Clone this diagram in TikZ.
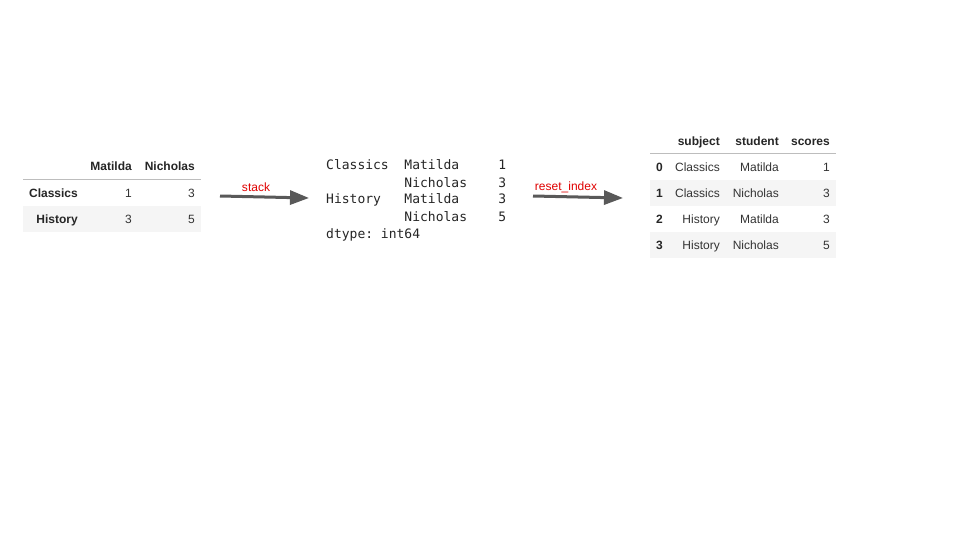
\documentclass[tikz,border=0pt]{standalone}
\usepackage{fontspec}
\setmainfont{Liberation Sans}
\newfontfamily\monof{DejaVu Sans Mono}
\usetikzlibrary{arrows.meta}
\definecolor{rowbg}{HTML}{F5F5F5}
\definecolor{ruleg}{HTML}{BDBDBD}
\definecolor{arrg}{HTML}{595959}
\definecolor{lblred}{HTML}{E00000}
\definecolor{txtg}{HTML}{333333}
\frenchspacing
\begin{document}
\begin{tikzpicture}[x=1pt,y=-1pt,
  cell/.style={inner sep=0pt,font=\fontsize{12}{14}\selectfont,text=txtg},
  hcell/.style={cell,font=\fontsize{12}{14}\selectfont\bfseries,text=black!85},
  mono/.style={inner sep=0pt,anchor=base west,font=\monof\fontsize{13}{17}\selectfont,text=black!85},
  flow/.style={draw=arrg,line width=3pt,-{Triangle[length=19pt,width=14pt]}},
  lbl/.style={inner sep=0pt,font=\fontsize{12}{14}\selectfont,text=lblred}]
\fill[white] (0,0) rectangle (960,540);
% ---------- table 1
\fill[rowbg] (23,206) rectangle (201,232);
\draw[ruleg,line width=1pt] (23,180) -- (201,180);
\node[hcell,anchor=base east] (t1h1) at (132,170.5) {Matilda};
\node[hcell,anchor=base east] (t1h2) at (195,170.5) {Nicholas};
\node[hcell,anchor=base east] (t1r1) at (78,197.5) {Classics};
\node[hcell,anchor=base east] (t1r2) at (78,223.5) {History};
\node[cell,anchor=base east] (t1a) at (132,197.5) {1};
\node[cell,anchor=base east] (t1b) at (195,197.5) {3};
\node[cell,anchor=base east] (t1c) at (132,223.5) {3};
\node[cell,anchor=base east] (t1d) at (195,223.5) {5};
% ---------- arrow 1
\coordinate (a1s) at (220,196);
\coordinate (a1e) at (309,198);
\draw[flow] (a1s) -- (a1e);
\node[lbl] (l1) at (256,187) {stack};
% ---------- series
\node[mono] (s1) at (326,170) {Classics\ \ Matilda\ \ \ \ \ 1};
\node[mono] (s2) at (326,187) {\phantom{Classics}\ \ Nicholas\ \ \ \ 3};
\node[mono] (s3) at (326,204) {History\ \ \ Matilda\ \ \ \ \ 3};
\node[mono] (s4) at (326,221) {\phantom{Classics}\ \ Nicholas\ \ \ \ 5};
\node[mono] (s5) at (326,238) {dtype:\ int64};
% ---------- arrow 2
\coordinate (a2s) at (533,196);
\coordinate (a2e) at (623,198);
\draw[flow] (a2s) -- (a2e);
\node[lbl] (l2) at (566,187) {reset\_index};
% ---------- table 3
\fill[rowbg] (650,180) rectangle (836,206);
\fill[rowbg] (650,232) rectangle (836,258);
\draw[ruleg,line width=1pt] (650,154) -- (836,154);
\node[hcell,anchor=base east] (h1) at (720,145.5) {subject};
\node[hcell,anchor=base east] (h2) at (779,145.5) {student};
\node[hcell,anchor=base east] (h3) at (830,145.5) {scores};
\foreach \i/\s/\n/\v [count=\k from 0] in {0/Classics/Matilda/1,1/Classics/Nicholas/3,2/History/Matilda/3,3/History/Nicholas/5}{
  \pgfmathsetmacro{\yy}{171.5+26*\k}
  \node[hcell,anchor=base east] (ri\k) at (663,\yy) {\i};
  \node[cell,anchor=base east] (rs\k) at (720,\yy) {\s};
  \node[cell,anchor=base east] (rn\k) at (779,\yy) {\n};
  \node[cell,anchor=base east] (rv\k) at (830,\yy) {\v};
}
\end{tikzpicture}
\end{document}
